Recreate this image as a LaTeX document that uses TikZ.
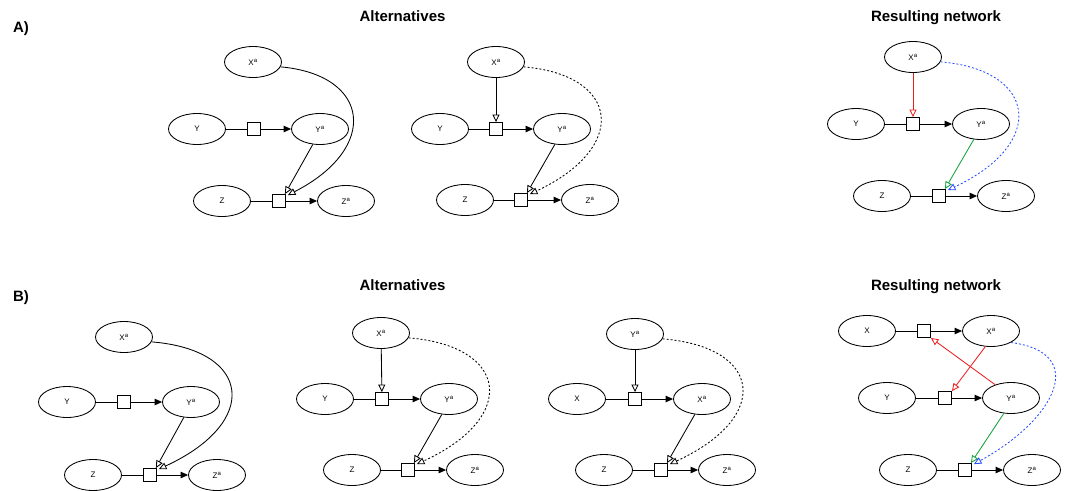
\documentclass[tikz,border=0pt]{standalone}
\usepackage{fontspec}
\setmainfont{Liberation Sans}
\usetikzlibrary{arrows.meta,shapes.geometric}
\definecolor{rd}{RGB}{235,30,30}
\definecolor{gn}{RGB}{20,160,60}
\definecolor{bl}{RGB}{40,80,255}
\begin{document}
\begin{tikzpicture}[x=1pt,y=-1pt,
 var/.style={draw, ellipse, minimum width=57pt, minimum height=31pt, inner sep=0pt, font=\fontsize{8}{9.5}\selectfont, line width=0.85pt},
 fbox/.style={draw, fill=white, minimum size=13pt, inner sep=0pt, line width=0.85pt},
 ln/.style={line width=0.85pt},
 act/.style={ln, -{Triangle[length=7.5pt,width=6.5pt]}},
 inh/.style={ln, -{Triangle[open,length=7.5pt,width=7pt]}},
 alt/.style={inh, dash pattern=on 2pt off 2pt},
 title/.style={font=\bfseries\fontsize{15}{18}\selectfont, anchor=base},
]
\useasboundingbox (0,0) rectangle (1070,490);

% titles
\node[title] (tA) at (21,32) {A)};
\node[title] (tB) at (21,301) {B)};
\node[title] (tA1) at (402.5,21.7) {Alternatives};
\node[title] (tA2) at (936,21.7) {Resulting network};
\node[title] (tB1) at (402.5,290) {Alternatives};
\node[title] (tB2) at (936,290) {Resulting network};

% ---- A1
\node[var] (a1Xa) at (253,62) {X\textsuperscript{a}};
\node[var] (a1Y) at (197,129) {Y};
\node[fbox] (a1b1) at (254,129) {};
\node[var] (a1Ya) at (320,129) {Y\textsuperscript{a}};
\node[var] (a1Z) at (222,201) {Z};
\node[fbox] (a1b2) at (279,201) {};
\node[var] (a1Za) at (346,201) {Z\textsuperscript{a}};
\draw[ln] (a1Y) -- (a1b1); \draw[act] (a1b1) -- (a1Ya);
\draw[ln] (a1Z) -- (a1b2); \draw[act] (a1b2) -- (a1Za);
\draw[inh] (a1Ya.-115) -- ([xshift=-1pt]a1b2.north east);
\draw[inh] (a1Xa.-10) .. controls +(90,8) and +(92,-47) .. ([xshift=2pt,yshift=-1pt]a1b2.north east);

% ---- A2
\node[var] (a2Xa) at (496,62) {X\textsuperscript{a}};
\node[var] (a2Y) at (440,129) {Y};
\node[fbox] (a2b1) at (496,129) {};
\node[var] (a2Ya) at (562,129) {Y\textsuperscript{a}};
\node[var] (a2Z) at (465,200) {Z};
\node[fbox] (a2b2) at (521,200) {};
\node[var] (a2Za) at (590,200) {Z\textsuperscript{a}};
\draw[ln] (a2Y) -- (a2b1); \draw[act] (a2b1) -- (a2Ya);
\draw[ln] (a2Z) -- (a2b2); \draw[act] (a2b2) -- (a2Za);
\draw[inh] (a2Xa) -- (a2b1);
\draw[inh] (a2Ya.-115) -- ([xshift=-1pt]a2b2.north east);
\draw[alt] (a2Xa.-10) .. controls +(96,8) and +(100,-47) .. ([xshift=2pt,yshift=-1pt]a2b2.north east);

% ---- A3
\node[var] (a3Xa) at (913,57) {X\textsuperscript{a}};
\node[var] (a3Y) at (856,124) {Y};
\node[fbox] (a3b1) at (913,124) {};
\node[var] (a3Ya) at (981,124) {Y\textsuperscript{a}};
\node[var] (a3Z) at (882,196) {Z};
\node[fbox] (a3b2) at (939,196) {};
\node[var] (a3Za) at (1006,196) {Z\textsuperscript{a}};
\draw[ln] (a3Y) -- (a3b1); \draw[act] (a3b1) -- (a3Ya);
\draw[ln] (a3Z) -- (a3b2); \draw[act] (a3b2) -- (a3Za);
\draw[inh,rd] (a3Xa) -- (a3b1);
\draw[inh,gn] (a3Ya.-115) -- ([xshift=-1pt]a3b2.north east);
\draw[alt,bl] (a3Xa.-10) .. controls +(96,8) and +(100,-47) .. ([xshift=2pt,yshift=-1pt]a3b2.north east);

% ---- B1
\node[var] (b1Xa) at (124,337) {X\textsuperscript{a}};
\node[var] (b1Y) at (67,402) {Y};
\node[fbox] (b1b1) at (124,402) {};
\node[var] (b1Ya) at (191,402) {Y\textsuperscript{a}};
\node[var] (b1Z) at (93,475) {Z};
\node[fbox] (b1b2) at (150,475) {};
\node[var] (b1Za) at (217,475) {Z\textsuperscript{a}};
\draw[ln] (b1Y) -- (b1b1); \draw[act] (b1b1) -- (b1Ya);
\draw[ln] (b1Z) -- (b1b2); \draw[act] (b1b2) -- (b1Za);
\draw[inh] (b1Ya.-115) -- ([xshift=-1pt]b1b2.north east);
\draw[inh] (b1Xa.-10) .. controls +(100,8) and +(102,-47) .. ([xshift=2pt,yshift=-1pt]b1b2.north east);

% ---- B2
\node[var] (b2Xa) at (381,333) {X\textsuperscript{a}};
\node[var] (b2Y) at (325,399) {Y};
\node[fbox] (b2b1) at (382,399) {};
\node[var] (b2Ya) at (449,399) {Y\textsuperscript{a}};
\node[var] (b2Z) at (352,470) {Z};
\node[fbox] (b2b2) at (408,470) {};
\node[var] (b2Za) at (475,470) {Z\textsuperscript{a}};
\draw[ln] (b2Y) -- (b2b1); \draw[act] (b2b1) -- (b2Ya);
\draw[ln] (b2Z) -- (b2b2); \draw[act] (b2b2) -- (b2Za);
\draw[inh] (b2Xa) -- (b2b1);
\draw[inh] (b2Ya.-115) -- ([xshift=-1pt]b2b2.north east);
\draw[alt] (b2Xa.-10) .. controls +(100,8) and +(102,-47) .. ([xshift=2pt,yshift=-1pt]b2b2.north east);

% ---- B3
\node[var] (b3Ya) at (635,334) {Y\textsuperscript{a}};
\node[var] (b3X) at (577,399) {X};
\node[fbox] (b3b1) at (635,399) {};
\node[var] (b3Xa) at (702,399) {X\textsuperscript{a}};
\node[var] (b3Z) at (604,470) {Z};
\node[fbox] (b3b2) at (661,470) {};
\node[var] (b3Za) at (727,470) {Z\textsuperscript{a}};
\draw[ln] (b3X) -- (b3b1); \draw[act] (b3b1) -- (b3Xa);
\draw[ln] (b3Z) -- (b3b2); \draw[act] (b3b2) -- (b3Za);
\draw[inh] (b3Ya) -- (b3b1);
\draw[inh] (b3Xa.-115) -- ([xshift=-1pt]b3b2.north east);
\draw[alt] (b3Ya.-10) .. controls +(100,8) and +(102,-47) .. ([xshift=2pt,yshift=-1pt]b3b2.north east);

% ---- B4
\node[var] (b4X) at (867,331) {X};
\node[fbox] (b4bx) at (924,331) {};
\node[var] (b4Xa) at (991,331) {X\textsuperscript{a}};
\node[var] (b4Y) at (887,398) {Y};
\node[fbox] (b4by) at (945,398) {};
\node[var] (b4Ya) at (1011,398) {Y\textsuperscript{a}};
\node[var] (b4Z) at (908,470) {Z};
\node[fbox] (b4bz) at (965,470) {};
\node[var] (b4Za) at (1032,470) {Z\textsuperscript{a}};
\draw[ln] (b4X) -- (b4bx); \draw[act] (b4bx) -- (b4Xa);
\draw[ln] (b4Y) -- (b4by); \draw[act] (b4by) -- (b4Ya);
\draw[ln] (b4Z) -- (b4bz); \draw[act] (b4bz) -- (b4Za);
\draw[inh,rd] (b4Xa.-110) -- (b4by.north east);
\draw[inh,rd] (b4Ya.140) -- (b4bx.south east);
\draw[inh,gn] (b4Ya.-115) -- ([xshift=-1pt]b4bz.north east);
\draw[alt,bl] (b4Xa.-30) .. controls +(78,10) and +(82,-45) .. ([xshift=2pt,yshift=-1pt]b4bz.north east);
\end{tikzpicture}
\end{document}
